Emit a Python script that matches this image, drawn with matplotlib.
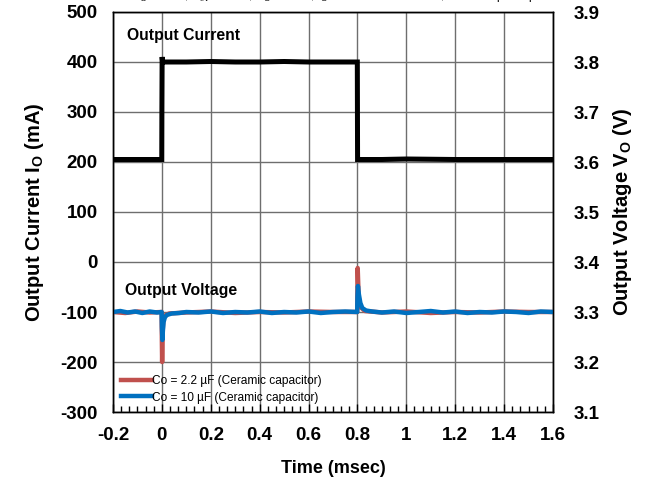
import numpy as np
import matplotlib.pyplot as plt
from matplotlib.ticker import MultipleLocator, FormatStrFormatter

plt.rcParams['font.family'] = ['Liberation Sans', 'DejaVu Sans']
plt.rcParams['axes.unicode_minus'] = False

# output current step (mA)
t_io = [-0.2, -0.1, -0.0005, 0.0, 0.001, 0.003, 0.1, 0.2, 0.3, 0.4, 0.5, 0.6, 0.7, 0.7995,
        0.8, 0.8005, 0.9, 1.0, 1.2, 1.4, 1.6]
io = [205, 205, 205, 300, 410, 400, 400, 401, 400, 400, 401, 400, 400, 400,
      300, 205, 205, 206, 205, 205, 205]

# output voltage, Co = 2.2 uF (V)
t_v22 = [-0.2, -0.15, -0.1, -0.05, -0.001, 0.0, 0.001, 0.003, 0.006, 0.012, 0.03,
         0.1, 0.2, 0.3, 0.4, 0.5, 0.6, 0.7, 0.799, 0.8, 0.801, 0.805, 0.812, 0.83,
         0.9, 1.0, 1.1, 1.2, 1.3, 1.4, 1.5, 1.6]
v22 = [3.300, 3.298, 3.301, 3.299, 3.300, 3.240, 3.200, 3.260, 3.285, 3.293, 3.297,
       3.299, 3.301, 3.298, 3.300, 3.299, 3.301, 3.300, 3.300, 3.360, 3.388, 3.330, 3.310, 3.302,
       3.299, 3.301, 3.298, 3.300, 3.299, 3.301, 3.300, 3.300]

# output voltage, Co = 10 uF (V)
t_v10 = [-0.2, -0.17, -0.14, -0.11, -0.08, -0.05, -0.02, -0.001, 0.0, 0.002, 0.004,
         0.007, 0.012, 0.02, 0.04, 0.07, 0.1, 0.15, 0.2, 0.25, 0.3, 0.35, 0.4, 0.45,
         0.5, 0.55, 0.6, 0.65, 0.7, 0.75, 0.799, 0.8, 0.802, 0.806, 0.812, 0.82, 0.835,
         0.86, 0.9, 0.95, 1.0, 1.05, 1.1, 1.15, 1.2, 1.25, 1.3, 1.35, 1.4, 1.45, 1.5,
         1.55, 1.6]
v10 = [3.300, 3.302, 3.299, 3.301, 3.298, 3.301, 3.299, 3.300, 3.270, 3.244, 3.262,
       3.280, 3.289, 3.294, 3.297, 3.298, 3.300, 3.299, 3.301, 3.298, 3.300, 3.299,
       3.301, 3.298, 3.300, 3.299, 3.301, 3.298, 3.300, 3.301, 3.300, 3.330, 3.352,
       3.335, 3.318, 3.308, 3.303, 3.301, 3.299, 3.301, 3.298, 3.300, 3.302, 3.299,
       3.301, 3.298, 3.300, 3.299, 3.301, 3.300, 3.298, 3.301, 3.300]

red = '#C0504D'
blue = '#0070C0'
grid_c = '#6e6e6e'

fig = plt.figure(figsize=(6.51, 4.86), dpi=100)
ax = fig.add_axes([113 / 651, 1 - 412 / 486, 440 / 651, 400 / 486])
ax2 = ax.twinx()

ax.plot(t_io, io, color='black', lw=3.6, solid_joinstyle='miter', zorder=3)
ax2.plot(t_v22, v22, color=red, lw=3.2, label='Co = 2.2 µF (Ceramic capacitor)')
ax2.plot(t_v10, v10, color=blue, lw=3.2, label='Co = 10 µF (Ceramic capacitor)')

ax.set_xlim(-0.2, 1.6)
ax.set_ylim(-300, 500)
ax2.set_ylim(3.1, 3.9)
ax.xaxis.set_major_locator(MultipleLocator(0.2))
ax.xaxis.set_minor_locator(MultipleLocator(0.2 / 6))
ax.yaxis.set_major_locator(MultipleLocator(100))
ax2.yaxis.set_major_locator(MultipleLocator(0.1))
ax2.yaxis.set_major_formatter(FormatStrFormatter('%.1f'))
ax.set_xticks(np.arange(-0.2, 1.61, 0.2))
ax.set_xticklabels(['-0.2', '0', '0.2', '0.4', '0.6', '0.8', '1', '1.2', '1.4', '1.6'])

ax.grid(True, which='major', color=grid_c, lw=1.0)
ax.set_axisbelow(True)
for a in (ax, ax2):
    for s in a.spines.values():
        s.set_color('black')
        s.set_linewidth(1.0)

ax.tick_params(axis='x', which='major', direction='in', length=6, width=1, pad=11)
ax.tick_params(axis='x', which='minor', direction='in', length=4, width=1)
ax.tick_params(axis='y', length=0, pad=11)
ax2.tick_params(axis='y', length=0, pad=15)
for lab in ax.get_xticklabels() + ax.get_yticklabels() + ax2.get_yticklabels():
    lab.set_fontweight('bold')
    lab.set_fontsize(13.5)

ax.set_xlabel('Time (msec)', fontsize=13, fontweight='bold', labelpad=11)
ax.set_ylabel('Output Current I$_\\mathregular{O}$ (mA)', fontsize=14.5, fontweight='bold', labelpad=10)
ax2.set_ylabel('Output Voltage V$_\\mathregular{O}$ (V)', fontsize=14.5, fontweight='bold', labelpad=8)

ax.text(-0.143, 452, 'Output Current', fontsize=11.3, fontweight='bold', va='center')
ax.text(-0.15, -56, 'Output Voltage', fontsize=11.3, fontweight='bold', va='center')

leg = ax2.legend(loc='lower left', bbox_to_anchor=(0.0, 0.0), frameon=False,
                 fontsize=8.6, handlelength=2.6, handletextpad=0.0,
                 borderaxespad=0.3, labelspacing=0.35)

fig.text(0.515, 1.0 + 1 / 486, 'T$_\\mathregular{a}$ = 25°C, V$_\\mathregular{IN}$ = 5.0 V, '
         'V$_\\mathregular{O}$ = 3.3 V, I$_\\mathregular{O}$ = 200 mA ⇔ 400 mA, tr = tf = 1 µs/step',
         ha='center', va='baseline', fontsize=8.5)

fig.savefig('out.png', dpi=100)
